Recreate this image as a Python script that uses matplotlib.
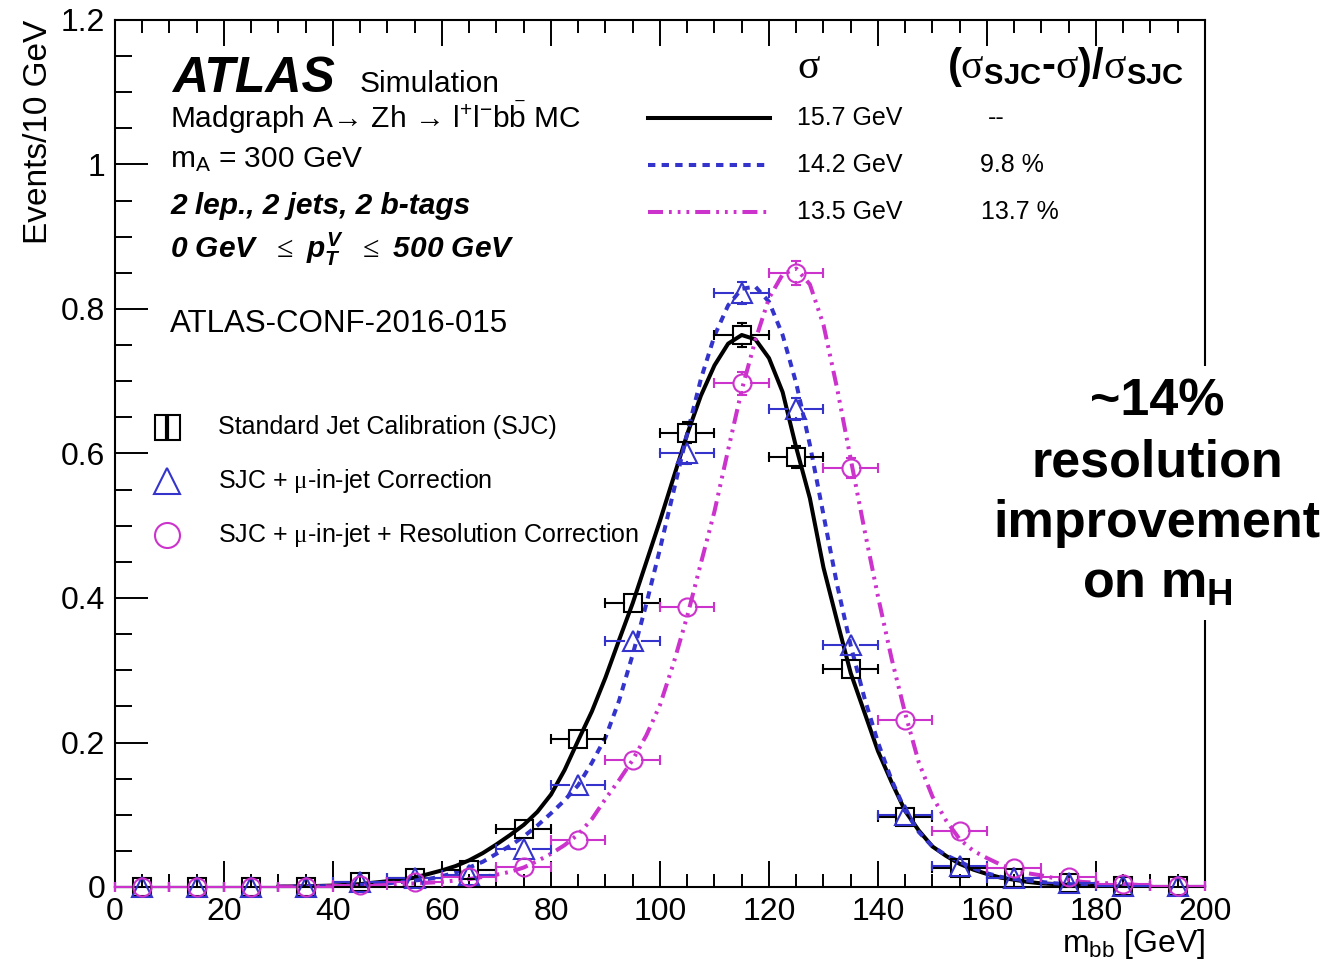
"""
Recreacion de la figura ATLAS-CONF-2016-015: distribucion de m_bb para
tres calibraciones de jets, con sus ajustes y la mejora de resolucion.
"""

import matplotlib
matplotlib.use('Agg')
import numpy as np
import matplotlib.pyplot as plt
from matplotlib.ticker import MultipleLocator, FuncFormatter

# ============================================================
# DATOS
# ============================================================
BIN_X = [5, 15, 25, 35, 45, 55, 65, 75, 85, 95,
         105, 115, 125, 135, 145, 155, 165, 175, 185, 195]
BIN_HALF = 5.0

SJC_Y = [0, 0, 0, 0, 0.007, 0.013, 0.024, 0.080, 0.205, 0.393,
         0.629, 0.764, 0.595, 0.302, 0.097, 0.026, 0.012, 0.006, 0.002, 0.001]
SJC_ERR = [0, 0, 0, 0, 0.002, 0.003, 0.004, 0.006, 0.009, 0.012,
           0.015, 0.0165, 0.015, 0.011, 0.006, 0.003, 0.002, 0.0015, 0.001, 0.0005]

MU_Y = [0, 0, 0, 0, 0.007, 0.013, 0.017, 0.052, 0.141, 0.341,
        0.601, 0.822, 0.662, 0.335, 0.100, 0.029, 0.013, 0.005, 0.002, 0.001]
MU_ERR = [0, 0, 0, 0, 0.002, 0.003, 0.003, 0.005, 0.008, 0.012,
          0.015, 0.0157, 0.015, 0.011, 0.006, 0.003, 0.002, 0.0015, 0.001, 0.0005]

RES_Y = [0, 0, 0, 0, 0.003, 0.007, 0.014, 0.028, 0.065, 0.176,
         0.388, 0.697, 0.850, 0.580, 0.231, 0.077, 0.026, 0.014, 0.004, 0.001]
RES_ERR = [0, 0, 0, 0, 0.001, 0.002, 0.003, 0.004, 0.005, 0.008,
           0.012, 0.016, 0.017, 0.014, 0.009, 0.005, 0.003, 0.002, 0.001, 0.0005]

# curvas de ajuste muestreadas a mano cada 2.5 GeV
FIT_X = [30, 32.5, 35, 37.5, 40, 42.5, 45, 47.5, 50, 52.5, 55, 57.5,
         60, 62.5, 65, 67.5, 70, 72.5, 75, 77.5, 80, 82.5, 85, 87.5,
         90, 92.5, 95, 97.5, 100, 102.5, 105, 107.5, 110, 112.5, 115, 117.5,
         120, 122.5, 125, 127.5, 130, 132.5, 135, 137.5, 140, 142.5, 145, 147.5,
         150, 152.5, 155, 157.5, 160, 162.5, 165, 167.5, 170, 172.5, 175, 177.5,
         180, 182.5, 185, 187.5, 190]
FIT_SJC = [0.0005, 0.0008, 0.001, 0.0015, 0.002, 0.003, 0.004, 0.006,
           0.008, 0.010, 0.013, 0.018, 0.023, 0.029, 0.037, 0.047,
           0.059, 0.072, 0.086, 0.104, 0.128, 0.162, 0.203, 0.243,
           0.290, 0.342, 0.393, 0.450, 0.507, 0.567, 0.627, 0.680,
           0.722, 0.752, 0.764, 0.758, 0.732, 0.685, 0.608, 0.538,
           0.442, 0.368, 0.296, 0.242, 0.188, 0.145, 0.105, 0.078,
           0.056, 0.043, 0.032, 0.024, 0.018, 0.013, 0.010, 0.007,
           0.005, 0.004, 0.003, 0.002, 0.0015, 0.001, 0.0007, 0.0005, 0.0003]
FIT_MU = [0.0003, 0.0005, 0.0008, 0.001, 0.0015, 0.002, 0.003, 0.004,
          0.005, 0.007, 0.009, 0.011, 0.015, 0.020, 0.027, 0.035,
          0.046, 0.057, 0.070, 0.085, 0.102, 0.120, 0.141, 0.172,
          0.207, 0.258, 0.322, 0.392, 0.468, 0.548, 0.628, 0.703,
          0.763, 0.805, 0.828, 0.831, 0.810, 0.764, 0.697, 0.612,
          0.515, 0.418, 0.334, 0.262, 0.200, 0.148, 0.106, 0.076,
          0.056, 0.044, 0.035, 0.026, 0.019, 0.014, 0.011, 0.009,
          0.007, 0.005, 0.004, 0.003, 0.002, 0.0015, 0.001, 0.0007, 0.0005]
FIT_RES = [0.0003, 0.0004, 0.0006, 0.0008, 0.001, 0.0013, 0.0017, 0.002,
           0.003, 0.004, 0.005, 0.006, 0.007, 0.009, 0.011, 0.014,
           0.017, 0.021, 0.027, 0.036, 0.046, 0.058, 0.073, 0.094,
           0.122, 0.148, 0.176, 0.210, 0.252, 0.310, 0.375, 0.448,
           0.520, 0.605, 0.688, 0.757, 0.815, 0.848, 0.856, 0.834,
           0.778, 0.690, 0.592, 0.495, 0.402, 0.316, 0.240, 0.172,
           0.125, 0.092, 0.066, 0.050, 0.040, 0.031, 0.024, 0.019,
           0.016, 0.012, 0.010, 0.007, 0.006, 0.005, 0.004, 0.003, 0.002]

SIGMAS = ['15.7 GeV', '14.2 GeV', '13.5 GeV']
MEJORAS = ['--', '9.8 %', '13.7 %']
ETIQUETAS = ['Standard Jet Calibration (SJC)',
             r'SJC + $\mathrm{\mu}$-in-jet Correction',
             r'SJC + $\mathrm{\mu}$-in-jet + Resolution Correction']

# ============================================================
# ESTILO
# ============================================================
NEGRO = 'black'
AZUL = '#3434cc'
MAGENTA = '#cc33cc'
MS = 13          # tamano de marcador (pt)
GAP_X = 1.65     # hueco de la barra horizontal dentro del marcador (GeV)
GAP_Y = 0.0125   # idem vertical

plt.rcParams['lines.scale_dashes'] = False
plt.rcParams['font.family'] = ['Liberation Sans', 'DejaVu Sans']
plt.rcParams['mathtext.fontset'] = 'custom'
plt.rcParams['mathtext.rm'] = 'Liberation Serif'
plt.rcParams['mathtext.sf'] = 'Liberation Sans'
plt.rcParams['mathtext.bf'] = 'Liberation Sans:bold'
plt.rcParams['mathtext.it'] = 'Liberation Sans:italic:bold'

ESTILOS = [dict(color=NEGRO, lw=2.9, ls='-'),
           dict(color=AZUL, lw=2.9, ls=(0, (5.3, 4.5))),
           dict(color=MAGENTA, lw=2.9,
                ls=(0, (10.8, 4.3, 2.0, 4.3, 2.0, 4.3, 2.0, 4.3)))]


# -- Puntos con barras de error al estilo ROOT ----------------
def dibujar_puntos(ax, x, y, err, color, marker, ms=MS):
    ax.plot(x, y, ls='none', marker=marker, ms=ms, mfc='none', mec=color,
            mew=1.5, zorder=5, clip_on=False)
    kw = dict(color=color, lw=1.5, zorder=4, clip_on=False)
    for xi, yi, ei in zip(x, y, err):
        ax.plot([xi - BIN_HALF, xi - GAP_X], [yi, yi], **kw)
        ax.plot([xi + GAP_X, xi + BIN_HALF], [yi, yi], **kw)
        ax.plot([xi - BIN_HALF, xi + BIN_HALF], [yi, yi], ls='none',
                marker='|', ms=7, mew=1.5, mec=color, zorder=4, clip_on=False)
        if ei > GAP_Y:
            ax.plot([xi, xi], [yi + GAP_Y, yi + ei], **kw)
            ax.plot([xi, xi], [yi - ei, yi - GAP_Y], **kw)
            ax.plot([xi, xi], [yi - ei, yi + ei], ls='none', marker='_',
                    ms=7, mew=1.5, mec=color, zorder=4, clip_on=False)


# -- Textos ---------------------------------------------------
def textos(ax, fig):
    t = ax.transAxes
    ax.text(0.052, 0.917, 'ATLAS', transform=t, fontsize=36,
            fontweight='bold', fontstyle='italic', va='baseline')
    ax.text(0.2248, 0.917, 'Simulation', transform=t, fontsize=21.5,
            va='baseline')
    ax.text(0.0505, 0.8754,
            r'Madgraph A→ Zh → l$^{\mathsf{+}}$l$^{\mathsf{-}}$b$\bar{\mathsf{b}}$ MC',
            transform=t, fontsize=21.5, va='baseline')
    ax.text(0.0505, 0.8304, r'm$_{\mathsf{A}}$ = 300 GeV', transform=t,
            fontsize=21.5, va='baseline')
    ax.text(0.0505, 0.776, '2 lep., 2 jets, 2 b-tags', transform=t,
            fontsize=21.5, fontweight='bold', fontstyle='italic', va='baseline')
    ax.text(0.0505, 0.7255,
            r'0 GeV  $\mathrm{\leq}$ $p_{T}^{V}$  $\mathrm{\leq}$ 500 GeV',
            transform=t, fontsize=21.5, fontweight='bold', fontstyle='italic',
            va='baseline')
    ax.text(0.0505, 0.640, 'ATLAS-CONF-2016-015', transform=t,
            fontsize=22.5, va='baseline')

    # leyenda de las resoluciones
    ax.text(0.6257, 0.933, 'σ', transform=t, fontsize=30,
            family='Liberation Serif', va='baseline')
    ax.text(0.763, 0.933,
            r'($\mathrm{\sigma}_{\mathbf{SJC}}$-$\mathrm{\sigma}$)/$\mathrm{\sigma}_{\mathbf{SJC}}$',
            transform=t, fontsize=30, fontweight='bold', va='baseline')
    filas = [0.887, 0.8328, 0.7785]
    xs_mej = [0.801, 0.7936, 0.7945]
    for yy, est, sig, mej, xm in zip(filas, ESTILOS, SIGMAS, MEJORAS, xs_mej):
        ax.plot([0.489, 0.601], [yy, yy], transform=t, clip_on=False, **est)
        ax.text(0.6257, yy, sig, transform=t, fontsize=18, va='center')
        ax.text(xm, yy, mej, transform=t, fontsize=18, va='center')

    # leyenda de los marcadores
    filas2 = [0.5306, 0.4683, 0.406]
    marcas = [('s', NEGRO, 18), ('^', AZUL, 19), ('o', MAGENTA, 18)]
    for yy, (mk, col, ms), lab in zip(filas2, marcas, ETIQUETAS):
        ax.plot([0.0477], [yy], transform=t, marker=mk, ms=ms, mfc='none',
                mec=col, mew=1.5, ls='none', clip_on=False)
        ax.text(0.0945, yy, lab, transform=t, fontsize=18, va='center')
    ax.plot([0.0477], [filas2[0]], transform=t, marker='|', ms=18, mew=3,
            mec=NEGRO, ls='none')

    # mensaje de la derecha
    fig.text(1157 / 1338, 1 - 493 / 964,
             '~14%\nresolution\nimprovement\non m$_{\\mathbf{H}}$',
             ha='center', va='center', fontsize=37.5, fontweight='bold',
             linespacing=1.31, multialignment='center',
             bbox=dict(facecolor='white', edgecolor='none', pad=8))


# -- Grafico --------------------------------------------------
def graficar():
    fig = plt.figure(figsize=(13.38, 9.64), dpi=100)
    ax = fig.add_axes([115 / 1338, 77 / 964, 1090 / 1338, 867 / 964])

    for fy, est in zip([FIT_SJC, FIT_MU, FIT_RES], ESTILOS):
        ax.plot(FIT_X, fy, zorder=2, **est)

    dibujar_puntos(ax, BIN_X, SJC_Y, SJC_ERR, NEGRO, 's')
    dibujar_puntos(ax, BIN_X, MU_Y, MU_ERR, AZUL, '^', ms=14)
    dibujar_puntos(ax, BIN_X, RES_Y, RES_ERR, MAGENTA, 'o')

    ax.set_xlim(0, 200)
    ax.set_ylim(0, 1.2)
    ax.xaxis.set_major_locator(MultipleLocator(20))
    ax.xaxis.set_minor_locator(MultipleLocator(5))
    ax.yaxis.set_major_locator(MultipleLocator(0.2))
    ax.yaxis.set_minor_locator(MultipleLocator(0.05))
    ax.yaxis.set_major_formatter(FuncFormatter(lambda v, p: f'{v:g}'))
    ax.tick_params(axis='x', which='major', direction='in', length=19,
                   width=1.4, top=True, labelsize=23, pad=7)
    ax.tick_params(axis='x', which='minor', direction='in', length=9.5,
                   width=1.4, top=True)
    ax.tick_params(axis='y', which='major', direction='in', length=24,
                   width=1.4, labelsize=23, pad=7)
    ax.tick_params(axis='y', which='minor', direction='in', length=12,
                   width=1.4)
    for s in ax.spines.values():
        s.set_linewidth(1.5)

    ax.set_ylabel('Events/10 GeV', fontsize=24, loc='top')
    ax.yaxis.set_label_coords(-0.056, 1.0)
    ax.set_xlabel(r'm$_{\mathsf{bb}}$ [GeV]', fontsize=23, loc='right')
    ax.xaxis.set_label_coords(1.0, -0.046)

    textos(ax, fig)
    fig.savefig('out.png', dpi=100)


if __name__ == "__main__":
    graficar()
